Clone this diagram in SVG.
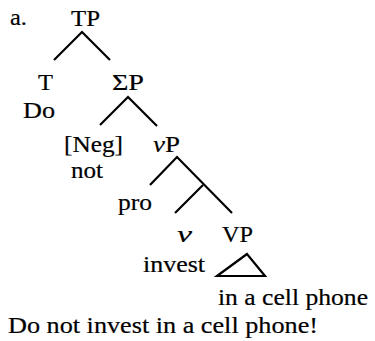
<svg xmlns="http://www.w3.org/2000/svg" width="375" height="341" viewBox="0 0 375 341">
<style>
text{font-family:"Liberation Serif","Times New Roman",serif;font-size:24px;fill:#000;stroke:#000;stroke-width:0.2}
.it{font-style:italic}
.ln{stroke:#000;stroke-width:2.2;fill:none;stroke-linecap:butt;stroke-linejoin:miter}
</style>
<rect width="375" height="341" fill="#fff"/>
<g id="connectors">
<polyline class="ln" points="54,60 82,32 110,60"/>
<polyline class="ln" points="100,125 128,97 157,126"/>
<polyline class="ln" points="150,185 177,157 232,213"/>
<line class="ln" x1="203" y1="185" x2="175" y2="213"/>
<polygon class="ln" points="247,254 217,276 265,276"/>
</g>
<g id="label-a"><text x="10" y="25" textLength="17" lengthAdjust="spacingAndGlyphs">a.</text></g>
<g id="TP"><text x="71" y="26" textLength="29" lengthAdjust="spacingAndGlyphs">TP</text></g>
<g id="T"><text x="38" y="90" textLength="15" lengthAdjust="spacingAndGlyphs">T</text><text x="23" y="118" textLength="32" lengthAdjust="spacingAndGlyphs">Do</text></g>
<g id="SigmaP"><text x="112" y="90" textLength="32" lengthAdjust="spacingAndGlyphs">ΣP</text></g>
<g id="Neg"><text x="64" y="152" textLength="59" lengthAdjust="spacingAndGlyphs">[Neg]</text><text x="71" y="178" textLength="32" lengthAdjust="spacingAndGlyphs">not</text></g>
<g id="vP"><text x="153" y="152" textLength="27" lengthAdjust="spacingAndGlyphs"><tspan class="it">v</tspan>P</text></g>
<g id="pro"><text x="118" y="210" textLength="34" lengthAdjust="spacingAndGlyphs">pro</text></g>
<g id="v"><text class="it" x="177" y="242" textLength="15" lengthAdjust="spacingAndGlyphs">v</text><text x="143" y="272" textLength="62" lengthAdjust="spacingAndGlyphs">invest</text></g>
<g id="VP"><text x="222" y="242" textLength="31" lengthAdjust="spacingAndGlyphs">VP</text><text x="218" y="305" textLength="150" lengthAdjust="spacingAndGlyphs">in a cell phone</text></g>
<g id="sentence"><text x="8" y="333" textLength="310" lengthAdjust="spacingAndGlyphs">Do not invest in a cell phone!</text></g>
</svg>
